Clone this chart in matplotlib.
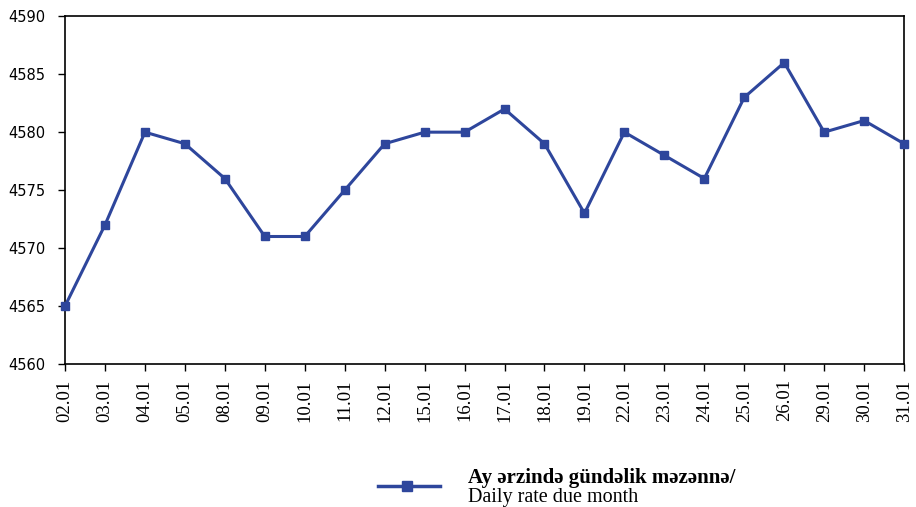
import matplotlib
matplotlib.use("Agg")
import matplotlib.pyplot as plt
from matplotlib.lines import Line2D

# günlər və məzənnə
dates = ["02.01", "03.01", "04.01", "05.01", "08.01", "09.01", "10.01", "11.01",
         "12.01", "15.01", "16.01", "17.01", "18.01", "19.01", "22.01", "23.01",
         "24.01", "25.01", "26.01", "29.01", "30.01", "31.01"]
rates = [4565, 4572, 4580, 4579, 4576, 4571, 4571, 4575, 4579, 4580, 4580,
         4582, 4579, 4573, 4580, 4578, 4576, 4583, 4586, 4580, 4581, 4579]
yticks = [4560, 4565, 4570, 4575, 4580, 4585, 4590]

color = "#2E469C"
serif = ["Liberation Serif", "DejaVu Serif"]

fig = plt.figure(figsize=(9.16, 5.07), dpi=100)
ax = fig.add_axes([0.071, 0.282, 0.916, 0.686])

x = list(range(len(dates)))
ax.plot(x, rates, color=color, lw=2.2, marker="s", ms=6, clip_on=False, zorder=3)

ax.set_xlim(0, len(dates) - 1)
ax.set_ylim(4560, 4590)
ax.set_yticks(yticks)
ax.set_yticklabels([str(v) for v in yticks], fontsize=10.5, family="DejaVu Sans")
ax.set_xticks(x)
ax.set_xticklabels(dates, rotation=90, fontsize=13.5, family=serif)
ax.tick_params(direction="out", length=5, width=1, color="black")
ax.tick_params(axis="y", pad=9)
ax.tick_params(axis="x", pad=6)
for s in ax.spines.values():
    s.set_linewidth(1.2)

# legenda
fig.add_artist(Line2D([0.413, 0.4445, 0.480], [0.041, 0.041, 0.041],
                      transform=fig.transFigure, color=color, lw=2.5,
                      marker="s", ms=7, markevery=[1]))
fig.text(0.511, 0.058, "Ay ərzində gündəlik məzənnə/", fontsize=15,
         fontweight="bold", family=serif, va="center")
fig.text(0.511, 0.018, "Daily rate due month", fontsize=14.5, family=serif, va="center")

fig.savefig("out.png", dpi=100)
